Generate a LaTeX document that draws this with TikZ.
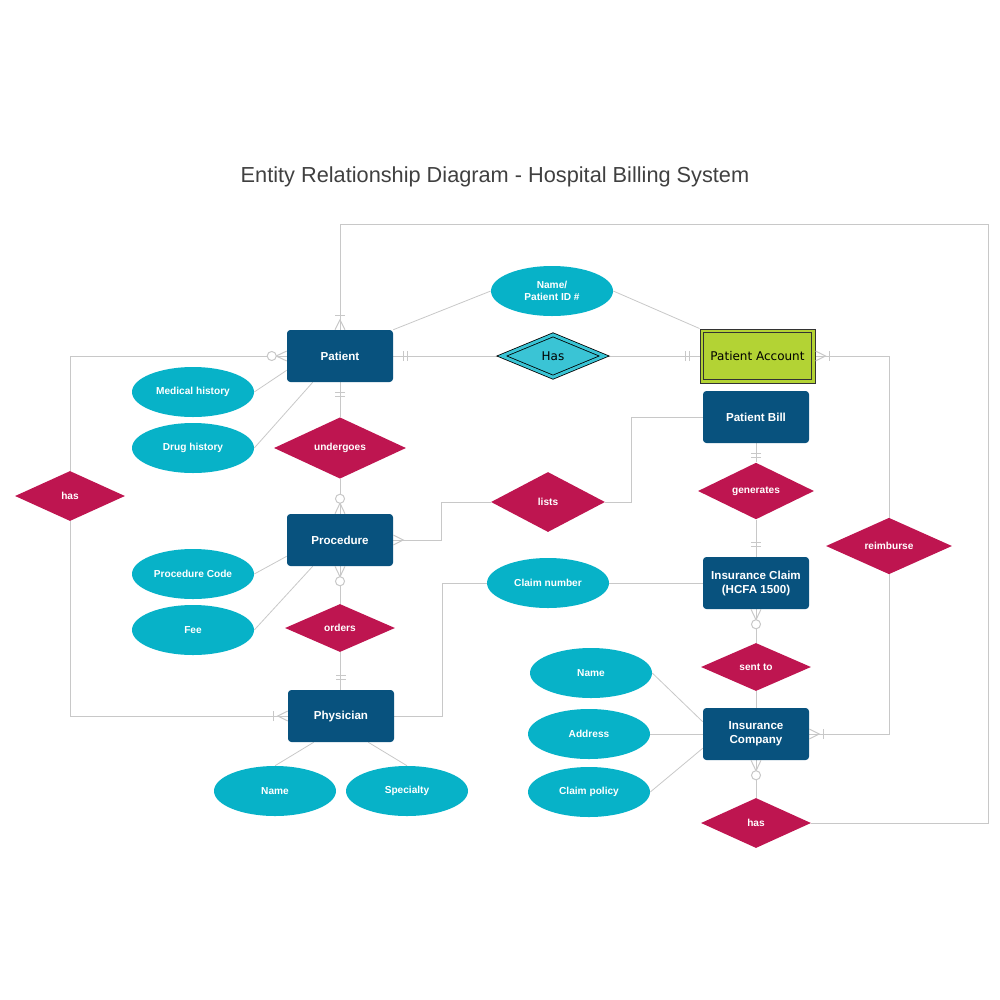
\documentclass[tikz,border=0pt]{standalone}
\usepackage{fontspec}
\setmainfont{Liberation Sans}
\newfontfamily\dvfont{DejaVu Sans}
\usetikzlibrary{shapes.geometric,calc,backgrounds}
\definecolor{entblue}{HTML}{08527E}
\definecolor{attrcyan}{HTML}{07B2C8}
\definecolor{relred}{HTML}{BE1550}
\definecolor{hascyan}{HTML}{3AC4D5}
\definecolor{acctgreen}{HTML}{B3D334}
\definecolor{linegray}{HTML}{C8C8C8}
\definecolor{titlegray}{HTML}{404040}
\definecolor{acctline}{HTML}{333333}
\tikzset{
  conn/.style={draw=linegray, line width=0.75pt},
  attrl/.style={draw=linegray, line width=0.6pt},
  entity/.style={rectangle, rounded corners=2.5pt, fill=entblue, text=white,
    minimum width=79.5pt, minimum height=39pt, inner sep=0pt, align=center,
    font=\fontsize{8.7}{10.5}\selectfont\bfseries},
  attr/.style={ellipse, fill=attrcyan, text=white, minimum width=91.5pt,
    minimum height=37.5pt, inner sep=0pt, align=center,
    font=\fontsize{7.6}{9.5}\selectfont\bfseries},
  rel/.style={diamond, fill=relred, text=white, inner sep=0pt,
    font=\fontsize{7.6}{9}\selectfont\bfseries},
  pics/onemany/.style={code={\draw[conn] (0,-5)--(10,0)--(0,5); \draw[conn] (14,-5)--(14,5);}},
  pics/zeromany/.style={code={\draw[conn] (0,-5)--(10.5,0)--(0,5); \draw[conn, fill=white] (15,0) circle[radius=3.4pt];}},
  pics/oneone/.style={code={\draw[conn] (10,-5)--(10,5); \draw[conn] (14,-5)--(14,5);}},
  pics/manyonly/.style={code={\draw[conn] (0,-5)--(10,0)--(0,5);}},
}
\begin{document}
\begin{tikzpicture}[x=0.75pt,y=-0.75pt]
\useasboundingbox (0,0) rectangle (1000,1000);
\node[text=titlegray, font=\fontsize{16.3}{19}\selectfont] (title) at (495,177) {Entity Relationship Diagram - Hospital Billing System};

% entities
\node[entity] (patient) at (340,356) {Patient};
\node[entity] (proc) at (340,540) {Procedure};
\node[entity] (phys) at (341,716) {Physician};
\node[entity] (bill) at (756,417) {Patient Bill};
\node[entity] (claim) at (756,583) {Insurance Claim\\(HCFA 1500)};
\node[entity] (inscomp) at (756,734) {Insurance\\Company};
\node[rectangle, draw=acctline, line width=0.75pt, fill=acctgreen,
  minimum width=86.25pt, minimum height=40.5pt, inner sep=0pt,
  font=\dvfont\fontsize{9}{11}\selectfont] (acct) at (757.5,356) {Patient Account};
\draw[acctline, line width=0.75pt] ($(acct.north west)+(4,4)$) rectangle ($(acct.south east)+(-4,-4)$);

% attributes
\node[attr] (nameid) at (552,291) {Name/\\Patient ID \#};
\node[attr] (med) at (193,392) {Medical history};
\node[attr] (drug) at (193,448) {Drug history};
\node[attr] (pcode) at (193,574) {Procedure Code};
\node[attr] (fee) at (193,630) {Fee};
\node[attr] (pname) at (275,791) {Name};
\node[attr] (spec) at (407,791) {Specialty};
\node[attr] (claimno) at (548,583) {Claim number};
\node[attr] (iname) at (591,673) {Name};
\node[attr] (addr) at (589,734) {Address};
\node[attr] (cpol) at (589,792) {Claim policy};

% relationships
\node[diamond, draw=black, line width=0.6pt, double=hascyan, double distance=2.2pt,
  fill=hascyan, minimum width=77pt, minimum height=32pt, inner sep=0pt,
  font=\dvfont\fontsize{9}{11}\selectfont] (has) at (553,356) {Has};
\node[rel, minimum width=99pt, minimum height=43.5pt] (undergoes) at (340,448) {undergoes};
\node[rel, minimum width=82.5pt, minimum height=37.5pt] (hasL) at (70,496) {has};
\node[rel, minimum width=82.5pt, minimum height=36pt] (orders) at (340,628) {orders};
\node[rel, minimum width=85.5pt, minimum height=45pt] (lists) at (548,502) {lists};
\node[rel, minimum width=87pt, minimum height=40.5pt] (generates) at (756,491) {generates};
\node[rel, minimum width=94.5pt, minimum height=42pt] (reimb) at (889,546) {reimburse};
\node[rel, minimum width=82.5pt, minimum height=36pt] (sentto) at (756,667) {sent to};
\node[rel, minimum width=82.5pt, minimum height=37.5pt] (hasB) at (756,823) {has};

\coordinate (tr) at (988,224);

\begin{scope}[on background layer]
  % relationship connectors
  \draw[conn] (patient.north) |- (tr) |- (hasB.east);
  \draw[conn] (patient.east) -- (has.west);
  \draw[conn] (has.east) -- (acct.west);
  \draw[conn] (acct.east) -| (reimb.north);
  \draw[conn] (reimb.south) |- (inscomp.east);
  \draw[conn] (patient.west) -| (hasL.north);
  \draw[conn] (hasL.south) |- (phys.west);
  \draw[conn] (patient.south) -- (undergoes.north);
  \draw[conn] (undergoes.south) -- (proc.north);
  \draw[conn] (proc.east) -- ++(48,0) |- (lists.west);
  \draw[conn] (lists.east) -- ++(26,0) |- (bill.west);
  \draw[conn] (proc.south) -- (orders.north);
  \draw[conn] (orders.south) -- (phys.north -| orders.south);
  \draw[conn] (phys.east) -- ++(48,0) |- (claimno.west);
  \draw[conn] (claimno.east) -- (claim.west);
  \draw[conn] (bill.south) -- (generates.north);
  \draw[conn] (generates.south) -- (claim.north);
  \draw[conn] (claim.south) -- (sentto.north);
  \draw[conn] (sentto.south) -- (inscomp.north);
  \draw[conn] (inscomp.south) -- (hasB.north);
  % attribute lines
  \draw[attrl] (patient.north east) -- (nameid.west);
  \draw[attrl] (nameid.east) -- (acct.north west);
  \draw[attrl] (med.east) -- ($(patient.south west)+(0,-12)$);
  \draw[attrl] (drug.east) -- ($(patient.south west)+(26,0)$);
  \draw[attrl] (pcode.east) -- ($(proc.south west)+(0,-10)$);
  \draw[attrl] (fee.east) -- ($(proc.south west)+(26,0)$);
  \draw[attrl] ($(phys.south west)+(26,0)$) -- (pname.north);
  \draw[attrl] ($(phys.south east)+(-26,0)$) -- (spec.north);
  \draw[attrl] (iname.east) -- ($(inscomp.north west)+(0,14)$);
  \draw[attrl] (addr.east) -- (inscomp.west);
  \draw[attrl] (cpol.east) -- ($(inscomp.south west)+(0,-12)$);
\end{scope}

% cardinality markers
\path (patient.north) pic[rotate=90] {onemany};
\path (patient.west) pic[rotate=180] {zeromany};
\path (phys.west) pic[rotate=180] {onemany};
\path (patient.east) pic {oneone};
\path (acct.west) pic[rotate=180] {oneone};
\path (acct.east) pic {onemany};
\path (inscomp.east) pic {onemany};
\path (patient.south) pic[rotate=270] {oneone};
\path (proc.north) pic[rotate=90] {zeromany};
\path (proc.east) pic {manyonly};
\path (proc.south) pic[rotate=270] {zeromany};
\path (phys.north) pic[rotate=90] {oneone};
\path (bill.south) pic[rotate=270] {oneone};
\path (claim.north) pic[rotate=90] {oneone};
\path (claim.south) pic[rotate=270] {zeromany};
\path (inscomp.south) pic[rotate=270] {zeromany};
\end{tikzpicture}
\end{document}
